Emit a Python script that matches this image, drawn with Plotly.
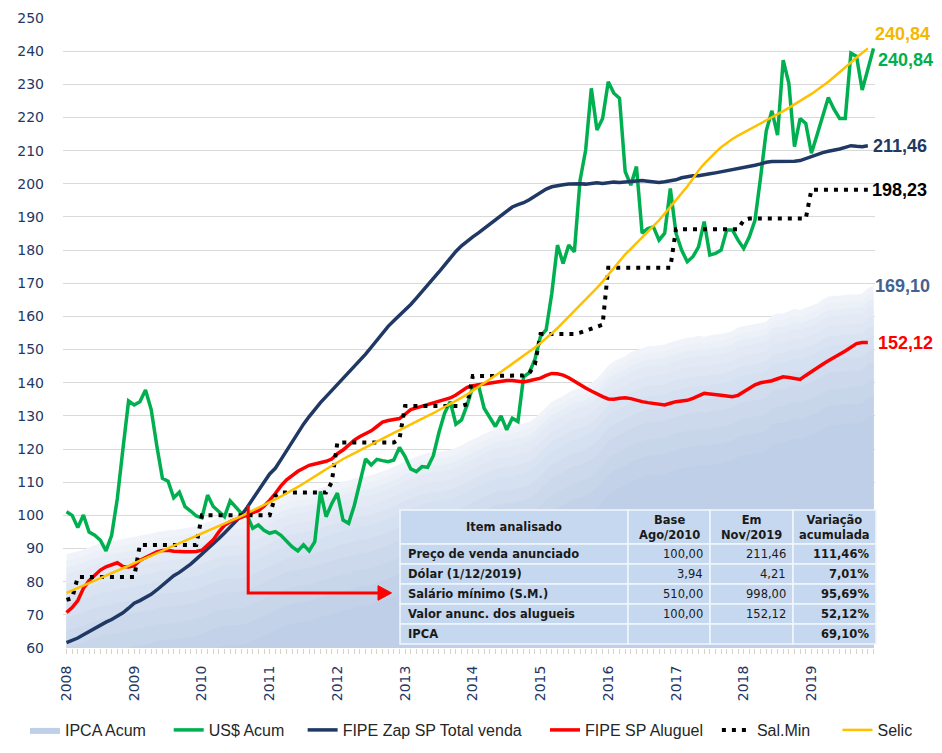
import plotly.graph_objects as go

# ---------------- data (monthly, Jan/2008 .. Dec/2019, index 0..143) ----------------
year_labels = ["2008", "2009", "2010", "2011", "2012", "2013",
               "2014", "2015", "2016", "2017", "2018", "2019"]
year_ticks = [0, 12, 24, 36, 48, 60, 72, 84, 96, 108, 120, 132]

ipca_acum = [
    88.3, 88.7, 89.2, 89.6, 90.4, 91.1, 91.6, 91.9, 92.2, 92.5, 92.9, 93.1,
    93.5, 93.8, 94.0, 94.5, 95.0, 95.3, 95.5, 95.6, 95.8, 96.0, 96.4, 96.7,
    97.4, 98.2, 98.7, 99.3, 99.7, 99.8, 99.8, 100.0, 100.5, 101.2, 102.0, 102.6,
    103.5, 104.3, 105.1, 105.9, 106.4, 106.6, 106.8, 107.2, 107.7, 108.1, 108.7, 109.2,
    109.8, 110.3, 110.5, 111.2, 111.6, 111.7, 112.1, 112.6, 113.3, 113.9, 114.6, 115.4,
    116.4, 117.1, 117.7, 118.3, 118.8, 119.1, 119.1, 119.4, 119.8, 120.4, 121.1, 122.1,
    122.8, 123.7, 124.6, 125.4, 126.0, 126.5, 126.5, 126.8, 127.3, 127.8, 128.2, 129.4,
    131.1, 132.6, 134.3, 135.2, 135.9, 137.1, 137.9, 138.2, 138.9, 139.9, 141.3, 143.2,
    145.2, 146.5, 147.2, 148.0, 149.2, 149.8, 150.6, 151.0, 151.1, 151.4, 151.5, 152.2,
    152.6, 153.1, 153.6, 153.7, 154.2, 153.9, 154.3, 154.6, 154.7, 155.1, 155.6, 156.7,
    157.0, 157.5, 157.6, 158.0, 158.4, 160.4, 160.9, 160.9, 161.6, 162.3, 161.9, 162.6,
    163.1, 163.9, 165.1, 166.0, 166.2, 166.2, 166.5, 166.7, 166.6, 166.8, 168.6, 169.1,
]

usd_acum = [
    101.1, 100.0, 96.3, 100.1, 95.0, 94.0, 92.5, 89.3, 94.0, 105.0, 120.0, 134.5,
    133.3, 134.3, 137.8, 132.0, 121.0, 111.2, 110.3, 105.3, 107.0, 102.6, 101.3, 99.8,
    99.3, 106.1, 102.7, 101.0, 99.6, 104.4, 102.6, 100.6, 100.0, 96.1, 97.1, 95.5,
    94.6, 95.1, 94.0, 92.3, 90.5, 89.3, 91.1, 89.3, 92.1, 107.2, 99.6, 103.5,
    106.7, 98.6, 97.6, 103.0, 110.0, 117.0, 115.2, 116.9, 116.5, 116.2, 116.7, 120.5,
    117.7, 114.0, 113.2, 114.7, 114.5, 118.0, 125.0, 130.8, 134.3, 127.5, 128.8, 133.3,
    138.8, 139.3, 132.3, 129.5, 126.8, 130.0, 125.8, 129.3, 128.3, 141.8, 143.0, 147.0,
    154.0, 156.0, 167.0, 181.5, 176.0, 181.5, 179.5, 201.0, 210.2, 228.8, 216.2, 219.7,
    230.8, 227.3, 225.8, 203.7, 199.6, 205.2, 185.1, 186.5, 187.0, 183.0, 185.1, 198.6,
    185.1, 180.0, 176.5, 178.0, 181.0, 188.6, 178.5, 179.0, 180.0, 186.1, 186.1, 183.0,
    180.5, 184.0, 189.0, 202.0, 216.0, 222.0, 214.7, 237.3, 230.3, 211.2, 219.7, 218.2,
    209.2, 214.7, 220.0, 226.0, 222.5, 219.7, 219.7, 239.4, 238.4, 228.3, 234.5, 240.84,
]

fipe_venda = [
    61.6, 62.2, 63.0, 64.0, 65.0, 66.0, 67.0, 67.8, 68.6, 69.5, 70.6, 72.0,
    73.5, 74.3, 75.2, 76.2, 77.5, 79.0, 80.5, 81.8, 82.8, 84.0, 85.3, 86.8,
    88.3, 89.8, 91.3, 93.0, 94.7, 96.4, 98.2, 100.0, 102.4, 104.8, 107.3, 110.0,
    112.5, 114.2, 116.8, 119.5, 122.4, 125.0, 127.5, 129.8, 132.0, 134.0, 135.8, 137.6,
    139.6, 141.3, 143.0, 144.7, 146.5, 148.6, 150.7, 152.9, 155.0, 157.0, 158.7, 160.3,
    161.9, 163.6, 165.5, 167.4, 169.3, 171.3, 173.4, 175.5, 177.6, 179.6, 181.3, 182.8,
    184.0, 185.2, 186.5, 187.8, 189.2, 190.6, 191.9, 193.0, 193.7, 194.3, 195.2, 196.3,
    197.4, 198.4, 199.1, 199.5, 199.7, 199.9, 200.0, 200.0, 199.9, 200.2, 200.3, 200.1,
    200.4, 200.5, 200.4, 200.6, 200.8, 200.9, 201.0, 200.8, 200.5, 200.4, 200.6, 200.9,
    201.2, 201.8, 202.2, 202.4, 202.4, 202.6, 203.0, 203.3, 203.6, 203.9, 204.2, 204.5,
    204.8, 205.2, 205.6, 206.0, 206.5, 206.7, 206.7, 206.9, 206.8, 206.8, 207.0, 207.6,
    208.3, 208.9, 209.4, 209.8, 210.1, 210.5, 211.0, 211.5, 211.3, 211.2, 211.46,
]

fipe_aluguel = [
    70.7, 72.2, 74.3, 78.0, 80.3, 81.8, 83.5, 84.5, 85.2, 85.7, 84.6, 84.4,
    84.8, 86.4, 87.3, 88.2, 89.0, 89.4, 89.5, 89.2, 89.0, 89.0, 89.0, 89.1,
    89.5, 91.0, 92.6, 95.0, 97.0, 98.1, 98.7, 99.3, 100.1, 100.8, 101.4, 102.8,
    104.5, 106.6, 108.9, 110.7, 112.1, 113.3, 114.2, 115.1, 115.5, 115.8, 116.3, 117.0,
    118.6, 119.7, 121.3, 122.7, 123.8, 124.7, 125.5, 126.8, 128.1, 128.6, 128.9, 129.2,
    130.5, 131.9, 132.4, 132.9, 133.3, 133.7, 134.3, 134.8, 135.4, 136.3, 137.5, 138.6,
    139.1, 139.4, 139.6, 140.0, 140.3, 140.5, 140.7, 140.7, 140.4, 140.2, 140.6, 141.1,
    141.4, 142.2, 142.8, 142.7, 142.3, 141.5, 140.4, 139.3, 138.4, 137.5, 136.6, 135.8,
    135.1, 135.0, 135.3, 135.5, 135.2, 134.7, 134.3, 134.0, 133.8, 133.5, 133.3, 133.8,
    134.3, 134.5, 134.7, 135.3, 136.2, 136.8, 136.6, 136.3, 136.2, 136.0, 135.8, 136.2,
    137.3, 138.4, 139.4, 140.0, 140.3, 140.6, 141.2, 141.8, 141.6, 141.3, 141.0, 142.2,
    143.4, 144.5, 145.6, 146.6, 147.5, 148.6, 149.6, 150.8, 151.8, 152.1, 152.12,
]

sal_min = [
    74.5, 75.0, 81.4, 81.4, 81.4, 81.4, 81.4, 81.4, 81.4, 81.4, 81.4, 81.4,
    81.4, 91.1, 91.1, 91.1, 91.1, 91.1, 91.1, 91.1, 91.1, 91.1, 91.1, 91.1,
    100.0, 100.0, 100.0, 100.0, 100.0, 100.0, 100.0, 100.0, 100.0, 100.0, 100.0, 100.0,
    100.0, 105.9, 106.9, 106.9, 106.9, 106.9, 106.9, 106.9, 106.9, 106.9, 106.9, 110.0,
    122.0, 122.0, 122.0, 122.0, 122.0, 122.0, 122.0, 122.0, 122.0, 122.0, 122.0, 123.0,
    133.0, 133.0, 133.0, 133.0, 133.0, 133.0, 133.0, 133.0, 133.0, 133.0, 133.0, 133.5,
    142.0, 142.0, 142.0, 142.0, 142.0, 142.0, 142.0, 142.0, 142.0, 142.2, 142.8, 145.5,
    154.7, 154.7, 154.7, 154.7, 154.7, 154.7, 154.7, 155.1, 155.7, 156.4, 157.0, 157.5,
    174.7, 174.7, 174.7, 174.7, 174.7, 174.7, 174.7, 174.7, 174.7, 174.7, 174.7, 174.7,
    186.3, 186.3, 186.3, 186.3, 186.3, 186.3, 186.3, 186.3, 186.3, 186.3, 186.3, 186.3,
    189.0, 189.5, 189.5, 189.5, 189.5, 189.5, 189.5, 189.5, 189.5, 189.5, 189.5, 189.5,
    198.23, 198.23, 198.23, 198.23, 198.23, 198.23, 198.23, 198.23, 198.23, 198.23, 198.23,
]

selic = [
    76.6, 77.3, 78.1, 78.8, 79.6, 80.3, 81.1, 81.8, 82.6, 83.3, 84.1, 84.8,
    85.6, 86.3, 87.1, 87.8, 88.6, 89.3, 90.1, 90.8, 91.6, 92.3, 93.1, 93.8,
    94.6, 95.3, 96.0, 96.7, 97.5, 98.2, 99.0, 99.8, 100.6, 101.4, 102.2, 103.0,
    103.9, 104.8, 105.7, 106.6, 107.6, 108.6, 109.6, 110.6, 111.7, 112.8, 113.9, 115.0,
    116.0, 117.0, 117.9, 118.8, 119.7, 120.6, 121.5, 122.3, 123.2, 124.0, 124.9, 125.7,
    126.6, 127.4, 128.3, 129.1, 130.0, 130.8, 131.7, 132.6, 133.5, 134.5, 135.5, 136.5,
    137.6, 138.7, 139.8, 140.9, 142.1, 143.3, 144.5, 145.7, 146.9, 148.1, 149.3, 150.6,
    152.0, 153.4, 154.9, 156.5, 158.2, 159.9, 161.6, 163.3, 165.0, 166.8, 168.6, 170.5,
    172.6, 174.8, 176.9, 178.7, 180.4, 182.1, 183.8, 185.4, 187.0, 189.0, 191.0, 193.0,
    195.0, 197.1, 199.2, 201.5, 204.0, 206.0, 207.8, 209.5, 211.0, 212.3, 213.5, 214.5,
    215.4, 216.3, 217.2, 218.2, 219.1, 220.0, 221.0, 221.9, 222.9, 223.9, 224.9, 226.0,
    227.1, 228.3, 229.5, 230.8, 232.2, 233.6, 235.1, 236.6, 238.1, 239.5, 240.84,
]

# end-of-series labels
end_labels = ["240,84", "240,84", "211,46", "198,23", "169,10", "152,12"]

# table contents
table_header = ["Item analisado", "Base<br>Ago/2010", "Em<br>Nov/2019", "Variação<br>acumulada"]
table_items = ["Preço de venda anunciado", "Dólar (1/12/2019)", "Salário mínimo (S.M.)",
               "Valor anunc. dos alugueis", "IPCA"]
table_base = ["100,00", "3,94", "510,00", "100,00", ""]
table_now = ["211,46", "4,21", "998,00", "152,12", ""]
table_var = ["111,46%", "7,01%", "95,69%", "52,12%", "69,10%"]

# ---------------- figure ----------------
GREEN = "#00b050"
NAVY = "#1f3864"
RED = "#ff0000"
GOLD = "#ffc000"

# the page body adds an 8px offset; the layout below is expressed in window pixels
PAGE_OFF = 8
W, H = 942, 745
PLOT_L, PLOT_T, PW, PH = 63, 18, 812, 630          # plot area in window pixels
ML, MT = PLOT_L - PAGE_OFF, PLOT_T - PAGE_OFF
MR, MB = W - ML - PW, H - MT - PH


def px2x(px):
    return (px - PLOT_L) / PW


def py2y(py):
    return (PLOT_T + PH - py) / PH


def xs(n):
    return list(range(n))


NB = "\u00a0"

fig = go.Figure()

# IPCA area: nested layers emulate the soft gradient that darkens below its upper edge
band_offsets = [0, 2, 4, 6, 9, 12, 15, 19, 23, 28, 33, 39]
n_bands = len(band_offsets)
c_top, c_bot = (240, 244, 250), (191, 207, 231)
for k, d in enumerate(band_offsets):
    t = k / (n_bands - 1)
    rgb = tuple(round(a + (b - a) * t) for a, b in zip(c_top, c_bot))
    col = "rgb(%d,%d,%d)" % rgb
    last = k == n_bands - 1
    fig.add_trace(go.Scatter(
        x=xs(len(ipca_acum)), y=[v - d for v in ipca_acum],
        mode="lines", line=dict(width=0, color=col), fill="tozeroy", fillcolor=col,
        name="IPCA Acum" + NB * 4, showlegend=last, legendrank=1 if last else 100,
        legend="legend", hoverinfo="skip" if d else None,
    ))

fig.add_trace(go.Scatter(x=xs(len(usd_acum)), y=usd_acum, mode="lines", name="US$ Acum" + NB * 3,
                         line=dict(color=GREEN, width=3.5), legendrank=2, legend="legend"))
fig.add_trace(go.Scatter(x=xs(len(fipe_venda)), y=fipe_venda, mode="lines",
                         name="FIPE Zap SP Total venda",
                         line=dict(color=NAVY, width=3.5), legendrank=3, legend="legend"))
fig.add_trace(go.Scatter(x=xs(len(fipe_aluguel)), y=fipe_aluguel, mode="lines",
                         name="FIPE SP Aluguel" + NB * 2,
                         line=dict(color=RED, width=3.5), legendrank=4, legend="legend2"))
fig.add_trace(go.Scatter(x=xs(len(sal_min)), y=sal_min, mode="lines", name="Sal.Min" + NB * 5,
                         line=dict(color="#000000", width=4, dash="4px,6px"), legendrank=5,
                         legend="legend2"))
fig.add_trace(go.Scatter(x=xs(len(selic)), y=selic, mode="lines", name="Selic",
                         line=dict(color=GOLD, width=2.5), legendrank=6, legend="legend2"))

# ---- table drawn with shapes + text ----
col_edges = [400, 628, 710, 793, 876]
row_edges = [510, 544, 564, 584, 604, 624, 644]
CELL = "#c6d8ef"
TFONT = dict(family="DejaVu Sans", size=11.5, color="#1a1a1a")
for r in range(len(row_edges) - 1):
    for c in range(len(col_edges) - 1):
        fig.add_shape(type="rect", xref="paper", yref="paper", layer="above",
                      x0=px2x(col_edges[c]), x1=px2x(col_edges[c + 1]),
                      y0=py2y(row_edges[r + 1]), y1=py2y(row_edges[r]),
                      fillcolor=CELL, line=dict(color="#f2f6fb", width=1.5))
for c, h in enumerate(table_header):
    fig.add_annotation(xref="paper", yref="paper", showarrow=False,
                       x=px2x((col_edges[c] + col_edges[c + 1]) / 2),
                       y=py2y((row_edges[0] + row_edges[1]) / 2),
                       text="<b>%s</b>" % h, align="center", font=TFONT,
                       xanchor="center", yanchor="middle")
body_cols = [["<b>%s</b>" % t for t in table_items], table_base, table_now,
             ["<b>%s</b>" % t for t in table_var]]
for c, col_vals in enumerate(body_cols):
    for r, txt in enumerate(col_vals):
        if not txt:
            continue
        yc = py2y((row_edges[r + 1] + row_edges[r + 2]) / 2)
        if c == 0:
            fig.add_annotation(xref="paper", yref="paper", showarrow=False,
                               x=px2x(col_edges[0] + 6), y=yc, text=txt, font=TFONT,
                               xanchor="left", yanchor="middle")
        else:
            fig.add_annotation(xref="paper", yref="paper", showarrow=False,
                               x=px2x(col_edges[c + 1] - 5), y=yc, text=txt, font=TFONT,
                               xanchor="right", yanchor="middle")

# red arrow from the base month to the table
fig.add_shape(type="path", xref="x", yref="y",
              path="M 32.2 103.1 L 32.2 76.6 L 55.6 76.6",
              line=dict(color=RED, width=3))
fig.add_shape(type="path", xref="x", yref="y",
              path="M 55.2 78.8 L 57.6 76.6 L 55.2 74.4 Z",
              line=dict(color=RED, width=1), fillcolor=RED)

# end labels
label_specs = [
    (selic[-1], end_labels[0], "#f5b800", -2, 14),
    (usd_acum[-1], end_labels[1], GREEN, 1, -12),
    (fipe_venda[-1], end_labels[2], NAVY, -4, 0),
    (sal_min[-1], end_labels[3], "#000000", -5, 0),
    (ipca_acum[-1], end_labels[4], "#44618f", -2, 0),
    (fipe_aluguel[-1], end_labels[5], RED, 1, 0),
]
for yv, txt, col, xsh, ysh in label_specs:
    fig.add_annotation(x=1.0, xref="paper", y=yv, yref="y", text="<b>%s</b>" % txt,
                       showarrow=False, xanchor="left", yanchor="middle",
                       xshift=xsh, yshift=ysh,
                       font=dict(family="Liberation Sans", size=18, color=col))

LEG_FONT = dict(family="Liberation Sans", size=16, color="#262626")
fig.update_layout(
    width=W, height=H,
    margin=dict(l=ML, r=MR, t=MT, b=MB, autoexpand=False),
    paper_bgcolor="white", plot_bgcolor="white",
    showlegend=True,
    legend=dict(orientation="h", x=px2x(25), xanchor="left", y=py2y(713), yanchor="top",
                font=LEG_FONT, bgcolor="rgba(0,0,0,0)", itemwidth=30, tracegroupgap=0),
    legend2=dict(orientation="h", x=px2x(545), xanchor="left", y=py2y(713), yanchor="top",
                 font=LEG_FONT, bgcolor="rgba(0,0,0,0)", itemwidth=30, tracegroupgap=0),
    xaxis=dict(range=[-0.62, 143.27], tickmode="array", tickvals=year_ticks, ticktext=year_labels,
               tickangle=-90, ticks="outside", ticklen=5, tickcolor="#d9d0c6",
               ticklabelstandoff=6,
               tickfont=dict(family="DejaVu Sans", size=14, color="#1f3864"),
               showgrid=False, zeroline=False, showline=False,
               minor=dict(tickmode="linear", tick0=0, dtick=1, ticks="outside", ticklen=5,
                          tickcolor="#d9d0c6", showgrid=False)),
    yaxis=dict(range=[60, 250], dtick=10, tick0=60, showgrid=True, gridcolor="#d9d9d9", gridwidth=1,
               zeroline=False, showline=False, ticks="", ticklabelstandoff=18,
               tickfont=dict(family="DejaVu Sans", size=14, color="#1f3864")),
)

fig.write_html("out.html")
